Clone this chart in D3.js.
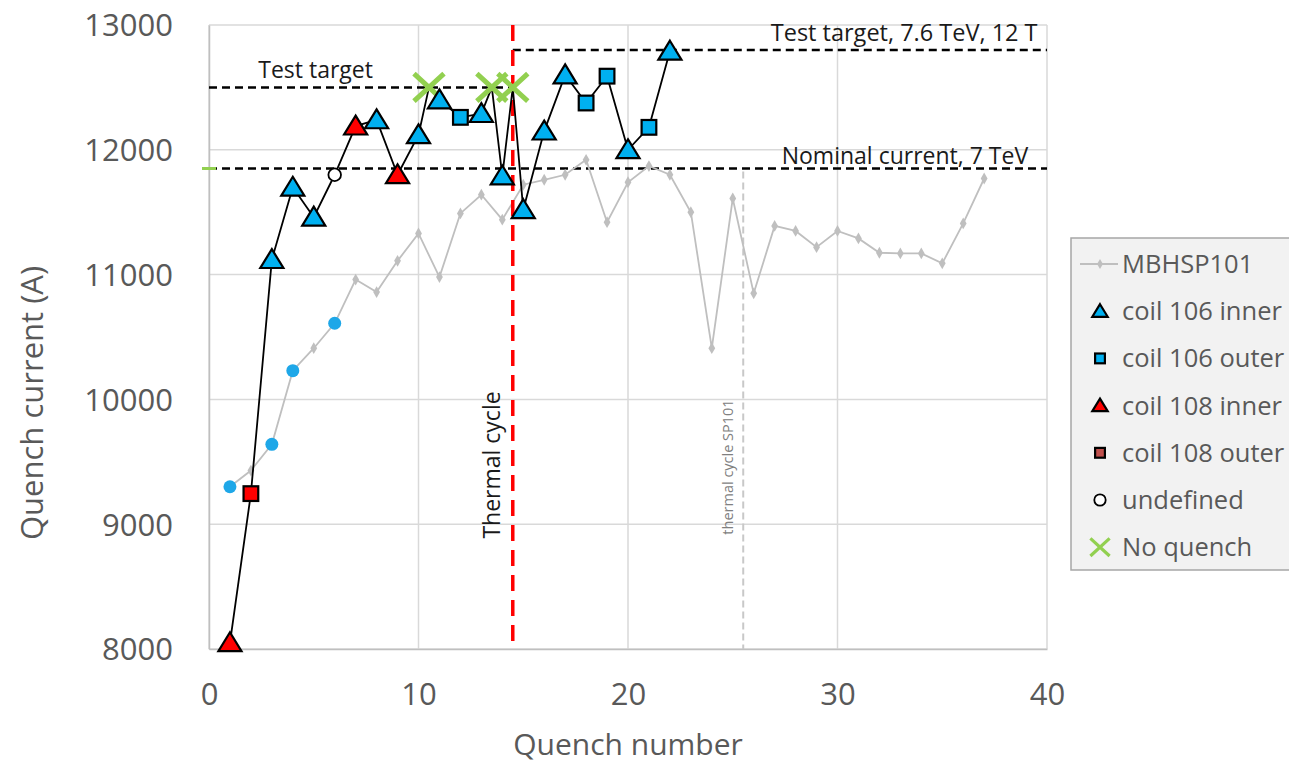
<!DOCTYPE html>
<html>
<head>
<meta charset="utf-8">
<script src="https://cdn.jsdelivr.net/npm/d3@7"></script>
<style>
	body { margin: 0; background: #fff; }
	svg { font-family: 'Open Sans', 'Liberation Sans', sans-serif; }
</style>
</head>
<body>
<div id="chart"></div>
<script>
// Magnet quench training
const quench_x = [1, 2, 3, 4, 5, 6, 7, 8, 9, 10, 10.5, 11, 12, 13, 13.5, 14, 14.5, 15, 16, 17, 18, 19, 20, 21, 22];
const quench_current = [8050, 9245, 11120, 11700, 11460, 11800, 12190, 12240, 11800, 12120, 12500, 12400, 12260, 12290, 12500, 11790, 12500, 11520, 12150, 12600, 12375, 12590, 12000, 12180, 12790];
const quench_type = ['c108i', 'c108o', 'c106i', 'c106i', 'c106i', 'undef', 'c108i', 'c106i', 'c108i', 'c106i', 'noq', 'c106i', 'c106o', 'c106i', 'noq', 'c106i', 'noq', 'c106i', 'c106i', 'c106i', 'c106o', 'c106o', 'c106i', 'c106o', 'c106i'];

// reference magnet MBHSP101, quench 1..37
const sp101_current = [9300, 9430, 9640, 10230, 10410, 10610, 10960, 10860, 11110, 11330, 10980, 11490, 11640, 11440, 11720, 11760, 11800, 11920, 11420, 11740, 11870, 11800, 11500, 10410, 11610, 10850, 11390, 11350, 11220, 11350, 11290, 11175, 11170, 11170, 11090, 11410, 11770];
const sp101_blue = [1, 3, 4, 6]; // quenches marked blue

const levels = [
	{ value: 12500, from: 0, to: 14.5, label: 'Test target' },
	{ value: 12800, from: 14.5, to: 40, label: 'Test target, 7.6 TeV, 12 T' },
	{ value: 11850, from: 0, to: 40, label: 'Nominal current, 7 TeV' },
];
const thermal_cycle = 14.5;
const thermal_cycle_sp101 = 25.5;

const y_ticks = [8000, 9000, 10000, 11000, 12000, 13000];
const x_ticks = [0, 10, 20, 30, 40];

const legend_items = [
	{ type: 'sp101', label: 'MBHSP101' },
	{ type: 'c106i', label: 'coil 106 inner' },
	{ type: 'c106o', label: 'coil 106 outer' },
	{ type: 'c108i', label: 'coil 108 inner' },
	{ type: 'c108o', label: 'coil 108 outer' },
	{ type: 'undef', label: 'undefined' },
	{ type: 'noq', label: 'No quench' },
];

const blue = '#00b0f0';
const red = '#ff0000';
const green = '#92d050';
const grey_line = '#bfbfbf';
const text_grey = '#595959';

const width = 1289;
const height = 764;
const plot = { left: 209, right: 1047, top: 25, bottom: 649 };

const x = d3.scaleLinear().domain([0, 40]).range([plot.left, plot.right]);
const y = d3.scaleLinear().domain([8000, 13000]).range([plot.bottom, plot.top]);

const svg = d3.select('#chart').append('svg')
	.attr('width', width)
	.attr('height', height);

// grid
const grid = svg.append('g');
grid.selectAll('line.h')
	.data(y_ticks)
	.enter()
	.append('line')
	.attr('x1', plot.left)
	.attr('x2', plot.right)
	.attr('y1', d => y(d))
	.attr('y2', d => y(d))
	.style('stroke', '#d9d9d9')
	.style('stroke-width', 1.5);
grid.selectAll('line.v')
	.data(x_ticks)
	.enter()
	.append('line')
	.attr('x1', d => x(d))
	.attr('x2', d => x(d))
	.attr('y1', plot.top)
	.attr('y2', plot.bottom)
	.style('stroke', '#d9d9d9')
	.style('stroke-width', 1.5);

// axes
const x_axis = svg.append('g')
	.attr('transform', `translate(0,${plot.bottom})`)
	.call(d3.axisBottom(x).tickValues(x_ticks).tickSize(0).tickPadding(34));
const y_axis = svg.append('g')
	.attr('transform', `translate(${plot.left},0)`)
	.call(d3.axisLeft(y).tickValues(y_ticks).tickSize(0).tickPadding(36).tickFormat(d3.format('d')));
[x_axis, y_axis].forEach(a => {
	a.select('.domain').style('stroke', grey_line).style('stroke-width', 1.5);
	a.selectAll('text')
		.attr('font-size', '31px')
		.attr('fill', text_grey)
		.attr('font-family', "'Open Sans', sans-serif");
});
y_axis.selectAll('text').attr('dy', '0.35em');

svg.append('text')
	.attr('x', (plot.left + plot.right) / 2)
	.attr('y', 755)
	.attr('text-anchor', 'middle')
	.attr('font-size', '30px')
	.attr('fill', text_grey)
	.text('Quench number');
svg.append('text')
	.attr('transform', 'translate(43,403) rotate(-90)')
	.attr('text-anchor', 'middle')
	.attr('font-size', '31px')
	.attr('fill', text_grey)
	.text('Quench current (A)');

// reference levels
const level_g = svg.append('g');
level_g.selectAll('line')
	.data(levels)
	.enter()
	.append('line')
	.attr('x1', d => x(d.from))
	.attr('x2', d => x(d.to))
	.attr('y1', d => y(d.value))
	.attr('y2', d => y(d.value))
	.style('stroke', '#000')
	.style('stroke-width', 2.5)
	.style('stroke-dasharray', '8,5');

level_g.append('text')
	.attr('x', x(2.35))
	.attr('y', y(levels[0].value) - 9)
	.attr('font-size', '23px')
	.attr('fill', '#1a1a1a')
	.text(levels[0].label);
level_g.append('text')
	.attr('x', x(39.55))
	.attr('y', y(levels[1].value) - 9)
	.attr('text-anchor', 'end')
	.attr('font-size', '23.5px')
	.attr('fill', '#1a1a1a')
	.text(levels[1].label);
level_g.append('text')
	.attr('x', x(39.1))
	.attr('y', y(levels[2].value) - 5)
	.attr('text-anchor', 'end')
	.attr('font-size', '23px')
	.attr('fill', '#1a1a1a')
	.text(levels[2].label);

// green dash on the axis at nominal
svg.append('line')
	.attr('x1', x(0) - 7)
	.attr('x2', x(0) + 7)
	.attr('y1', y(levels[2].value))
	.attr('y2', y(levels[2].value))
	.style('stroke', green)
	.style('stroke-width', 3);

// thermal cycles
svg.append('line')
	.attr('x1', x(thermal_cycle_sp101))
	.attr('x2', x(thermal_cycle_sp101))
	.attr('y1', y(levels[2].value) + 3)
	.attr('y2', plot.bottom)
	.style('stroke', '#c8c8c8')
	.style('stroke-width', 2)
	.style('stroke-dasharray', '7,4');
svg.append('text')
	.attr('transform', `translate(${x(thermal_cycle_sp101) - 10},467) rotate(-90)`)
	.attr('text-anchor', 'middle')
	.attr('font-size', '14.5px')
	.attr('fill', '#808080')
	.text('thermal cycle SP101');

// MBHSP101
const sp101 = sp101_current.map((v, i) => ({ q: i + 1, v }));
const line = d3.line().x(d => x(d.q)).y(d => y(d.v));

svg.append('path')
	.datum(sp101)
	.attr('d', line)
	.style('fill', 'none')
	.style('stroke', grey_line)
	.style('stroke-width', 1.8);
svg.append('g')
	.selectAll('path')
	.data(sp101)
	.enter()
	.append('path')
	.attr('transform', d => `translate(${x(d.q)},${y(d.v)})`)
	.attr('d', d3.symbol(d3.symbolDiamond, 40))
	.style('fill', grey_line);
svg.append('g')
	.selectAll('circle')
	.data(sp101.filter(d => sp101_blue.includes(d.q)))
	.enter()
	.append('circle')
	.attr('cx', d => x(d.q))
	.attr('cy', d => y(d.v))
	.attr('r', 6.5)
	.style('fill', '#1ea7e8');

svg.append('line')
	.attr('x1', x(thermal_cycle))
	.attr('x2', x(thermal_cycle))
	.attr('y1', plot.top)
	.attr('y2', plot.bottom - 8)
	.style('stroke', red)
	.style('stroke-width', 3.5)
	.style('stroke-dasharray', '16,9');
svg.append('text')
	.attr('transform', `translate(${x(thermal_cycle) - 13},465) rotate(-90)`)
	.attr('text-anchor', 'middle')
	.attr('font-size', '23px')
	.attr('fill', '#1a1a1a')
	.text('Thermal cycle');

// the magnet itself
const quenches = quench_x.map((q, i) => ({ q, v: quench_current[i], type: quench_type[i] }));

svg.append('path')
	.datum(quenches)
	.attr('d', line)
	.style('fill', 'none')
	.style('stroke', '#000')
	.style('stroke-width', 1.8);

const draw_marker = (sel, type, size) => {
	const k = size / 20;
	if (type == 'c106i' || type == 'c108i') {
		sel.append('path')
			.attr('d', `M0,${-10 * k}L${11 * k},${8 * k}L${-11 * k},${8 * k}Z`)
			.style('fill', type == 'c106i' ? blue : red)
			.style('stroke', '#000')
			.style('stroke-width', 2.2)
			.style('stroke-linejoin', 'miter');
	} else if (type == 'c106o' || type == 'c108o') {
		sel.append('rect')
			.attr('x', -7 * k)
			.attr('y', -7 * k)
			.attr('width', 14 * k)
			.attr('height', 14 * k)
			.style('fill', type == 'c106o' ? blue : (size < 20 ? '#c0504d' : red))
			.style('stroke', '#000')
			.style('stroke-width', 2.2);
	} else if (type == 'undef') {
		sel.append('circle')
			.attr('r', 6 * k + (size < 20 ? 1.5 : 0))
			.style('fill', '#fff')
			.style('stroke', '#000')
			.style('stroke-width', 1.8);
	} else if (type == 'noq') {
		const s = size < 20 ? 0.8 : 1.25;
		sel.append('path')
			.attr('d', `M${-12 * s},${-11 * s}L${12 * s},${11 * s}M${-12 * s},${11 * s}L${12 * s},${-11 * s}`)
			.style('stroke', green)
			.style('stroke-width', 4 * s);
	} else if (type == 'sp101') {
		sel.append('line')
			.attr('x1', -20).attr('x2', 18)
			.style('stroke', grey_line)
			.style('stroke-width', 2);
		sel.append('path')
			.attr('d', d3.symbol(d3.symbolDiamond, 30))
			.style('fill', grey_line);
	}
};

svg.append('g')
	.selectAll('g')
	.data(quenches)
	.enter()
	.append('g')
	.attr('transform', d => `translate(${x(d.q)},${y(d.v)})`)
	.each(function(d) {
		draw_marker(d3.select(this), d.type, 21);
	});

// legend
const legend = svg.append('g').attr('transform', 'translate(1071,238)');
legend.append('rect')
	.attr('width', 260)
	.attr('height', 332)
	.style('fill', '#f2f2f2')
	.style('stroke', '#a6a6a6')
	.style('stroke-width', 1.5);

const legend_rows = legend.selectAll('g')
	.data(legend_items)
	.enter()
	.append('g')
	.attr('transform', (d, i) => `translate(29,${26 + i * 47.2})`);
legend_rows.each(function(d) {
	draw_marker(d3.select(this), d.type, 14);
});
legend_rows.append('text')
	.attr('x', 22)
	.attr('dy', '0.35em')
	.attr('font-size', '25.5px')
	.attr('fill', text_grey)
	.text(d => d.label);
</script>
</body>
</html>
